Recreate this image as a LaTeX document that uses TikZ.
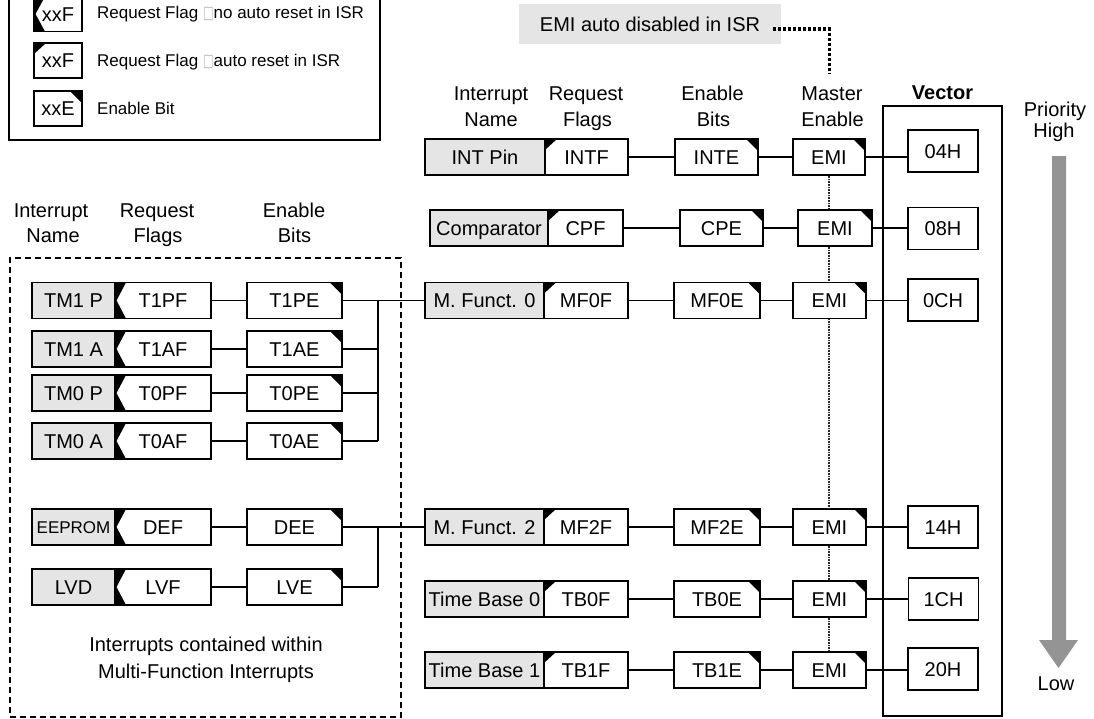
\documentclass[tikz,border=0pt]{standalone}
\usepackage{graphicx}
\usepackage{fontspec}
\setmainfont{Liberation Sans}
\newfontfamily\dejavu{DejaVu Sans}
\usetikzlibrary{calc}
\newcommand\sqglyph{{\color{black!28}\dejavu\scalebox{0.66}[1.02]{□}}}
\tikzset{
 bx/.style={draw, line width=1.4pt, inner sep=0pt, minimum height=36pt,
   text height=14pt, text depth=0pt, font=\fontsize{20}{24}\selectfont},
 namebox/.style={bx, fill=gray!20},
 flagauto/.style={bx, fill=white, path picture={\fill[black]
   (path picture bounding box.north west) -- ++(12pt,0pt) -- ++(-12pt,-11pt) -- cycle;}},
 flagkeep/.style={bx, fill=white, path picture={\fill[black]
   (path picture bounding box.north west) -- ++(11pt,0pt)
   -- ([xshift=1.5pt]path picture bounding box.west)
   -- ([xshift=11pt]path picture bounding box.south west)
   -- (path picture bounding box.south west) -- cycle;}},
 enbox/.style={bx, fill=white, path picture={\fill[black]
   (path picture bounding box.north east) -- ++(-12pt,0pt) -- ++(12pt,-12pt) -- cycle;}},
 vecbox/.style={bx, fill=white, minimum width=70pt, minimum height=42pt},
 hdr/.style={anchor=base, inner sep=0pt, font=\fontsize{20}{24}\selectfont},
 legtxt/.style={anchor=base west, inner sep=0pt, font=\fontsize{17}{20}\selectfont},
 wire/.style={line width=1.3pt},
 emichain/.style={line width=2pt, black!85, dash pattern=on 1pt off 0.6pt},
}
\begin{document}
\begin{tikzpicture}[x=1pt,y=-1pt]
\useasboundingbox (0,0) rectangle (1094,718);

% legend
\node[draw, line width=1.4pt, minimum width=371pt, minimum height=150pt, inner sep=0pt] (legend) at (194.5,65) {};
\node[flagkeep, minimum width=48pt, minimum height=35pt] (lg1) at (58,14) {xxF};
\node[flagauto, minimum width=48pt, minimum height=35pt] (lg2) at (58,60.5) {xxF};
\node[enbox, minimum width=48pt, minimum height=35pt] (lg3) at (58,108.5) {xxE};
\node[legtxt] (lt1) at (97,18.5) {Request Flag \sqglyph no auto reset in ISR};
\node[legtxt] (lt2) at (97,66.5) {Request Flag \sqglyph auto reset in ISR};
\node[legtxt] (lt3) at (97,114.3) {Enable Bit};

% EMI auto disabled label
\node[fill=gray!20, minimum width=262pt, minimum height=40pt, inner sep=0pt,
  text height=14pt, text depth=0pt, font=\fontsize{20}{24}\selectfont] (isr) at (650,24) {EMI auto disabled in ISR};
\coordinate (isrdrop) at (829.5,74);
\draw[line width=3.4pt, dash pattern=on 3pt off 2pt] ([xshift=-8pt,yshift=-5pt]isr.east) -| (isrdrop);

% headers right
\node[hdr] (h1a) at (491,100.3) {Interrupt};
\node[hdr] (h1b) at (491,126) {Name};
\node[hdr] (h2a) at (586,100.3) {Request};
\node[hdr] (h2b) at (587.5,126) {Flags};
\node[hdr] (h3a) at (712.5,100.3) {Enable};
\node[hdr] (h3b) at (713.5,126) {Bits};
\node[hdr] (h4a) at (832,100.3) {Master};
\node[hdr] (h4b) at (832.5,126) {Enable};
\node[hdr, font=\bfseries\fontsize{20}{24}\selectfont] (vech) at (942.5,99.5) {Vector};
\node[hdr] (prio1) at (1055,116) {Priority};
\node[hdr] (prio2) at (1054,137.6) {High};
\node[hdr] (prio3) at (1056,690.5) {Low};

% headers left
\node[hdr] (l1a) at (51,217.6) {Interrupt};
\node[hdr] (l1b) at (53,242.6) {Name};
\node[hdr] (l2a) at (157,217.6) {Request};
\node[hdr] (l2b) at (158,242.6) {Flags};
\node[hdr] (l3a) at (294,217.6) {Enable};
\node[hdr] (l3b) at (294.5,242.6) {Bits};

% priority arrow
\fill[black!42] (1052,156) -- (1066,156) -- (1066,640) -- (1078,640) -- (1058.5,668)
  -- (1039,640) -- (1052,640) -- cycle;

% vector frame
\node[draw, line width=1.4pt, minimum width=119pt, minimum height=610pt, inner sep=0pt] (vframe) at (942.5,411) {};

% multi-function group frame
\node[draw, dash pattern=on 6pt off 4pt, line width=2.8pt, minimum width=391pt, minimum height=459pt, inner sep=0pt] (mfgroup) at (205.5,487.5) {};
\node[hdr] (ic1) at (206,651) {Interrupts contained within};
\node[hdr] (ic2) at (206,678.5) {Multi-Function Interrupts};

% right rows
\node[namebox, minimum width=120pt] (intn) at (485,157) {INT Pin};
\node[flagauto, minimum width=83pt] (intf) at (586.5,157) {INTF};
\node[enbox, minimum width=83pt] (inte) at (716.5,157) {INTE};
\node[enbox, minimum width=72pt] (emi1) at (829,157) {EMI};
\node[vecbox] (v1) at (943,151) {04H};

\node[namebox, minimum width=118pt] (cpn) at (489,228) {Comparator};
\node[flagauto, minimum width=75pt] (cpf) at (585.5,228) {CPF};
\node[enbox, minimum width=83pt] (cpe) at (721.5,228) {CPE};
\node[enbox, minimum width=74pt] (emi2) at (835,228) {EMI};
\node[vecbox] (v2) at (943,228.5) {08H};

\node[namebox, minimum width=119pt] (mf0n) at (484.5,300.5) {M. Funct. 0};
\node[flagauto, minimum width=84pt] (mf0f) at (586,300.5) {MF0F};
\node[enbox, minimum width=86pt] (mf0e) at (717,300.5) {MF0E};
\node[enbox, minimum width=73pt] (emi3) at (829.5,300.5) {EMI};
\node[vecbox] (v3) at (943,300) {0CH};

\node[namebox, minimum width=119pt] (mf2n) at (484.5,527) {M. Funct. 2};
\node[flagauto, minimum width=84pt] (mf2f) at (586,527) {MF2F};
\node[enbox, minimum width=86pt] (mf2e) at (717,527) {MF2E};
\node[enbox, minimum width=73pt] (emi4) at (829.5,527) {EMI};
\node[vecbox] (v4) at (943,527) {14H};

\node[namebox, minimum width=119pt] (tb0n) at (484.5,599) {Time Base 0};
\node[flagauto, minimum width=84pt] (tb0f) at (586,599) {TB0F};
\node[enbox, minimum width=86pt] (tb0e) at (717,599) {TB0E};
\node[enbox, minimum width=73pt] (emi5) at (829.5,599) {EMI};
\node[vecbox] (v5) at (943.5,599) {1CH};

\node[namebox, minimum width=119pt] (tb1n) at (484.5,670) {Time Base 1};
\node[flagauto, minimum width=84pt] (tb1f) at (586,670) {TB1F};
\node[enbox, minimum width=86pt] (tb1e) at (717,670) {TB1E};
\node[enbox, minimum width=73pt] (emi6) at (829.5,670) {EMI};
\node[vecbox] (v6) at (943,669) {20H};

% right row wires
\foreach \f/\e/\m/\v in {intf/inte/emi1/v1, cpf/cpe/emi2/v2, mf0f/mf0e/emi3/v3,
                         mf2f/mf2e/emi4/v4, tb0f/tb0e/emi5/v5, tb1f/tb1e/emi6/v6}{
  \draw[wire] (\f.east) -- (\e.west);
  \draw[wire] (\e.east) -- (\m.west);
  \draw[wire] (\m.east) -- (\m.east -| \v.west);
}

% EMI chain
\foreach \a/\b in {emi1/emi2, emi2/emi3, emi3/emi4, emi4/emi5, emi5/emi6}{
  \draw[emichain] (emi1.south |- \a.south) -- (emi1.south |- \b.north);
}

% left rows
\node[namebox, minimum width=83pt] (tm1pn) at (73.5,300.5) {TM1 P};
\node[flagkeep, minimum width=96pt] (t1pf) at (163,300.5) {T1PF};
\node[enbox, minimum width=95pt] (t1pe) at (294.5,300.5) {T1PE};

\node[namebox, minimum width=83pt] (tm1an) at (73.5,349) {TM1 A};
\node[flagkeep, minimum width=96pt] (t1af) at (163,349) {T1AF};
\node[enbox, minimum width=95pt] (t1ae) at (294.5,349) {T1AE};

\node[namebox, minimum width=83pt] (tm0pn) at (73.5,393) {TM0 P};
\node[flagkeep, minimum width=96pt] (t0pf) at (163,393) {T0PF};
\node[enbox, minimum width=95pt] (t0pe) at (294.5,393) {T0PE};

\node[namebox, minimum width=83pt] (tm0an) at (73.5,441) {TM0 A};
\node[flagkeep, minimum width=96pt] (t0af) at (163,441) {T0AF};
\node[enbox, minimum width=95pt] (t0ae) at (294.5,441) {T0AE};

\node[namebox, minimum width=83pt, font=\fontsize{17}{20}\selectfont, text height=12pt] (eepn) at (73.5,527) {EEPROM};
\node[flagkeep, minimum width=96pt] (def) at (163,527) {DEF};
\node[enbox, minimum width=95pt] (dee) at (294.5,527) {DEE};

\node[namebox, minimum width=83pt] (lvdn) at (73.5,587) {LVD};
\node[flagkeep, minimum width=96pt] (lvf) at (163,587) {LVF};
\node[enbox, minimum width=95pt] (lve) at (294.5,587) {LVE};

\foreach \f/\e in {t1pf/t1pe, t1af/t1ae, t0pf/t0pe, t0af/t0ae, def/dee, lvf/lve}{
  \draw[wire] (\f.east) -- (\e.west);
}

% buses into multi-function interrupts
\coordinate (busa1) at (378,300.5);
\coordinate (busa2) at (378,441);
\draw[wire] (t1pe.east) -- (mf0n.west);
\draw[wire] (t1ae.east) -- (t1ae.east -| busa1);
\draw[wire] (t0pe.east) -- (t0pe.east -| busa1);
\draw[wire] (t0ae.east) -- (busa2);
\draw[wire] (busa1) -- (busa2);

\coordinate (busb1) at (378,527);
\coordinate (busb2) at (378,587);
\draw[wire] (dee.east) -- (mf2n.west);
\draw[wire] (lve.east) -- (busb2);
\draw[wire] (busb1) -- (busb2);
\end{tikzpicture}
\end{document}
